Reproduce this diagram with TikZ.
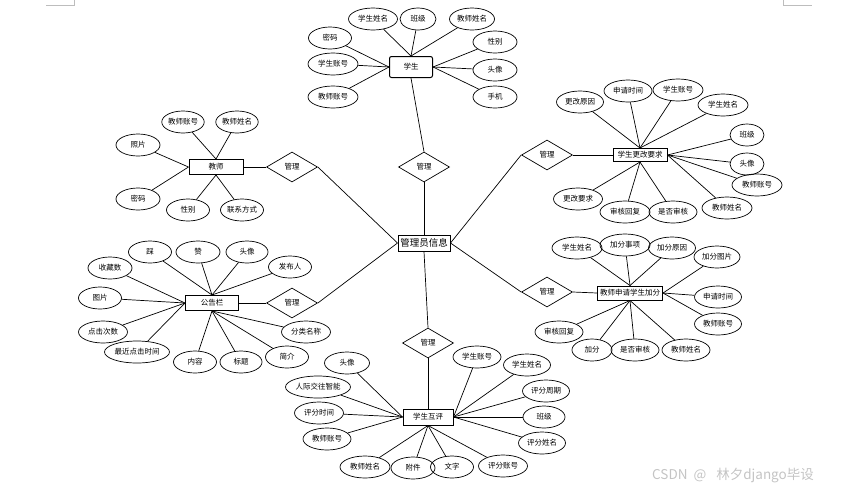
\documentclass[tikz,border=0pt]{standalone}
\usepackage{fontspec}
\setmainfont{Noto Sans CJK SC}
\newfontfamily\cnf{Noto Sans CJK SC}
\usetikzlibrary{shapes.geometric}
\definecolor{wm}{HTML}{C4C4C4}
\definecolor{cmark}{HTML}{BDBDBD}
\tikzset{
  attr/.style={draw, ellipse, line width=0.7pt, minimum height=22pt, inner sep=0pt, font=\cnf\fontsize{7.5}{9}\selectfont},
  ent/.style={draw, rectangle, line width=1pt, inner sep=0pt, font=\cnf\fontsize{7.5}{9}\selectfont},
  rel/.style={draw, diamond, aspect=1.7, line width=0.7pt, minimum width=51pt, minimum height=30pt, inner sep=0pt, font=\cnf\fontsize{7.5}{9}\selectfont},
  lk/.style={line width=0.7pt}
}
\begin{document}
\begin{tikzpicture}[x=1pt,y=-1pt]
\useasboundingbox (0,0) rectangle (844,491);
% corner marks
\draw[draw=cmark, line width=0.6pt] (46,5) -- (74.5,5) -- (74.5,0);
\draw[draw=cmark, line width=0.6pt] (783.5,0) -- (783.5,5) -- (812,5);

% central
\node[ent, minimum width=52pt, minimum height=16pt, font=\cnf\fontsize{9.5}{11}\selectfont] (c) at (424,243) {管理员信息};

% relationships
\node[rel] (r1) at (424,167) {管理};
\node[rel] (r2) at (292,167) {管理};
\node[rel] (r3) at (547,155) {管理};
\node[rel] (r4) at (292,303) {管理};
\node[rel] (r5) at (547,292) {管理};
\node[rel] (r6) at (428,343) {管理};

% student
\node[ent, rounded corners=2pt, minimum width=43pt, minimum height=21pt] (stu) at (411,67) {学生};
\node[attr, minimum width=49pt] (s1) at (373,19) {学生姓名};
\node[attr, minimum width=36pt] (s2) at (418,19) {班级};
\node[attr, minimum width=45pt] (s3) at (472,19) {教师姓名};
\node[attr, minimum width=43pt] (s4) at (330,38) {密码};
\node[attr, minimum width=50pt] (s5) at (333,64) {学生账号};
\node[attr, minimum width=50pt] (s6) at (333,97) {教师账号};
\node[attr, minimum width=44pt] (s7) at (495,42) {性别};
\node[attr, minimum width=44pt] (s8) at (495,70) {头像};
\node[attr, minimum width=44pt] (s9) at (495,97) {手机};
\foreach \a in {s1,s2,s3} \draw[lk] (\a) -- (stu.north);
\foreach \a in {s4,s5,s6} \draw[lk] (\a) -- (stu.west);
\foreach \a in {s7,s8,s9} \draw[lk] (\a) -- (stu.east);

% teacher
\node[ent, minimum width=54pt, minimum height=15pt] (t) at (216,167) {教师};
\node[attr, minimum width=40pt] (t1) at (183,122) {教师账号};
\node[attr, minimum width=40pt] (t2) at (237,122) {教师姓名};
\node[attr, minimum width=44pt] (t3) at (138,145) {照片};
\node[attr, minimum width=44pt] (t4) at (138,199) {密码};
\node[attr, minimum width=43pt] (t5) at (188,210) {性别};
\node[attr, minimum width=43pt] (t6) at (242,210) {联系方式};
\foreach \a in {t1,t2} \draw[lk] (\a) -- (t.north);
\foreach \a in {t3,t4} \draw[lk] (\a) -- (t.west);
\foreach \a in {t5,t6} \draw[lk] (\a) -- (t.south);

% notice board
\node[ent, minimum width=53pt, minimum height=15pt] (n) at (212,303) {公告栏};
\node[attr, minimum width=43pt] (n1) at (150,252) {踩};
\node[attr, minimum width=44pt] (n2) at (198,252) {赞};
\node[attr, minimum width=42pt] (n3) at (247,252) {头像};
\node[attr, minimum width=43pt] (n4) at (290,267) {发布人};
\node[attr, minimum width=44pt] (n5) at (110,268) {收藏数};
\node[attr, minimum width=43pt] (n6) at (100,298) {图片};
\node[attr, minimum width=49pt] (n7) at (103,332) {点击次数};
\node[attr, minimum width=65pt] (n8) at (137,352) {最近点击时间};
\node[attr, minimum width=43pt] (n9) at (195,362) {内容};
\node[attr, minimum width=42pt] (n10) at (241,362) {标题};
\node[attr, minimum width=43pt] (n11) at (287,357) {简介};
\node[attr, minimum width=49pt] (n12) at (306,332) {分类名称};
\foreach \a in {n1,n2,n3,n4} \draw[lk] (\a) -- (n.north);
\foreach \a in {n5,n6,n7,n8} \draw[lk] (\a) -- (n.west);
\foreach \a in {n9,n10,n11,n12} \draw[lk] (\a) -- (n.south);

% change request
\node[ent, minimum width=54pt, minimum height=13pt] (q) at (640,155) {学生更改要求};
\node[attr, minimum width=47pt] (q1) at (580,102) {更改原因};
\node[attr, minimum width=48pt] (q2) at (628,91) {申请时间};
\node[attr, minimum width=50pt] (q3) at (678,90) {学生账号};
\node[attr, minimum width=50pt] (q4) at (723,105) {学生姓名};
\node[attr, minimum width=34pt] (q5) at (747,135) {班级};
\node[attr, minimum width=34pt] (q6) at (747,164) {头像};
\node[attr, minimum width=50pt] (q7) at (757,185) {教师账号};
\node[attr, minimum width=50pt] (q8) at (727,208) {教师姓名};
\node[attr, minimum width=48pt] (q9) at (673,212) {是否审核};
\node[attr, minimum width=50pt] (q10) at (625,212) {审核回复};
\node[attr, minimum width=49pt] (q11) at (578,199) {更改要求};
\foreach \a in {q1,q2,q3,q4} \draw[lk] (\a) -- (q.north);
\foreach \a in {q5,q6,q7,q8} \draw[lk] (\a) -- (q.east);
\foreach \a in {q9,q10,q11} \draw[lk] (\a) -- (q.south);

% bonus request
\node[ent, minimum width=65pt, minimum height=14pt] (b) at (630,293) {教师申请学生加分};
\node[attr, minimum width=50pt] (b1) at (577,248) {学生姓名};
\node[attr, minimum width=50pt] (b2) at (625,245) {加分事项};
\node[attr, minimum width=47pt] (b3) at (672,248) {加分原因};
\node[attr, minimum width=46pt] (b4) at (717,257) {加分图片};
\node[attr, minimum width=47pt] (b5) at (718,297) {申请时间};
\node[attr, minimum width=47pt] (b6) at (718,324) {教师账号};
\node[attr, minimum width=48pt] (b7) at (559,332) {审核回复};
\node[attr, minimum width=40pt] (b8) at (592,350) {加分};
\node[attr, minimum width=48pt] (b9) at (635,350) {是否审核};
\node[attr, minimum width=48pt] (b10) at (686,350) {教师姓名};
\foreach \a in {b1,b2,b3} \draw[lk] (\a) -- (b.north);
\foreach \a in {b4,b5,b6} \draw[lk] (\a) -- (b.east);
\foreach \a in {b7,b8,b9,b10} \draw[lk] (\a) -- (b.south);

% peer review
\node[ent, minimum width=50pt, minimum height=16pt] (p) at (428,417) {学生互评};
\node[attr, minimum width=45pt] (p1) at (347,363) {头像};
\node[attr, minimum width=65pt] (p2) at (318,387) {人际交往智能};
\node[attr, minimum width=49pt] (p3) at (319,413) {评分时间};
\node[attr, minimum width=48pt] (p4) at (327,439) {教师账号};
\node[attr, minimum width=50pt] (p5) at (365,467) {教师姓名};
\node[attr, minimum width=44pt] (p6) at (413,468) {附件};
\node[attr, minimum width=43pt] (p7) at (452,467) {文字};
\node[attr, minimum width=49pt] (p8) at (503,466) {评分账号};
\node[attr, minimum width=48pt] (p9) at (477,357) {学生账号};
\node[attr, minimum width=47pt] (p10) at (527,365) {学生姓名};
\node[attr, minimum width=47pt] (p11) at (546,391) {评分周期};
\node[attr, minimum width=42pt] (p12) at (544,417) {班级};
\node[attr, minimum width=47pt] (p13) at (542,443) {评分姓名};
\foreach \a in {p1,p2,p3,p4} \draw[lk] (\a) -- (p.west);
\foreach \a in {p5,p6,p7,p8} \draw[lk] (\a) -- (p.south);
\foreach \a in {p9,p10,p11,p12,p13} \draw[lk] (\a) -- (p.east);

% relationship links
\draw[lk] (stu.south) -- (r1.north);
\draw[lk] (r1.south) -- (c.north);
\draw[lk] (t.east) -- (r2.west);
\draw[lk] (r2.east) -- (c.west);
\draw[lk] (r3.east) -- (q.west);
\draw[lk] (r3.west) -- (c.east);
\draw[lk] (n.east) -- (r4.west);
\draw[lk] (r4.east) -- (c.west);
\draw[lk] (r5.east) -- (b.west);
\draw[lk] (r5.west) -- (c.east);
\draw[lk] (r6.north) -- (c.south);
\draw[lk] (r6.south) -- (p.north);

% watermark
\node[anchor=west, text=wm, inner sep=0pt, font=\cnf\fontsize{13.5}{15}\selectfont] (wmk) at (652,476) {CSDN\hspace{6pt}@\hspace{10pt}林夕django毕设};
\end{tikzpicture}
\end{document}
